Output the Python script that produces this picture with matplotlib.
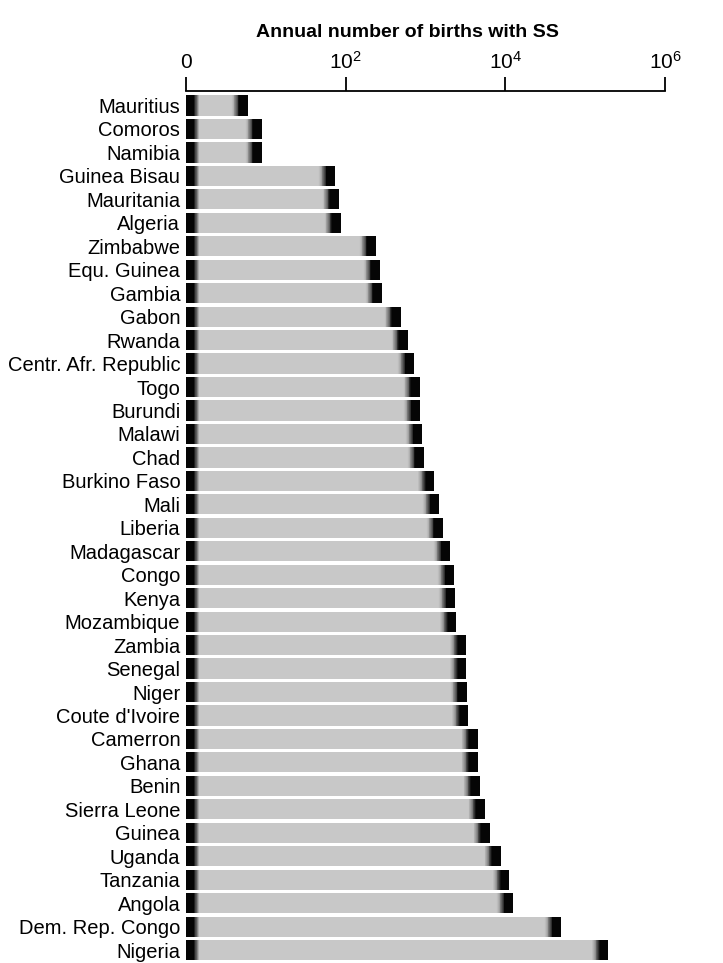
import numpy as np
import matplotlib
matplotlib.use("Agg")
import matplotlib.pyplot as plt
from matplotlib.colors import to_rgb

plt.rcParams['font.family'] = ['Liberation Sans', 'DejaVu Sans']
plt.rcParams['mathtext.fontset'] = 'custom'
plt.rcParams['mathtext.rm'] = 'Liberation Sans'
plt.rcParams['mathtext.it'] = 'Liberation Sans'

# countries, top to bottom
countries = [
    "Mauritius", "Comoros", "Namibia", "Guinea Bisau", "Mauritania", "Algeria",
    "Zimbabwe", "Equ. Guinea", "Gambia", "Gabon", "Rwanda", "Centr. Afr. Republic",
    "Togo", "Burundi", "Malawi", "Chad", "Burkino Faso", "Mali", "Liberia",
    "Madagascar", "Congo", "Kenya", "Mozambique", "Zambia", "Senegal", "Niger",
    "Coute d'Ivoire", "Camerron", "Ghana", "Benin", "Sierra Leone", "Guinea",
    "Uganda", "Tanzania", "Angola", "Dem. Rep. Congo", "Nigeria",
]
# annual number of births with SS
births = [
    6, 9, 9, 74, 82, 87,
    240, 270, 285, 490, 600, 720,
    850, 860, 910, 960, 1290, 1480, 1660,
    2040, 2290, 2350, 2440, 3250, 3250, 3300,
    3450, 4480, 4480, 4760, 5500, 6330,
    8700, 11200, 12500, 50000, 195000,
]
tick_vals = [1, 1e2, 1e4, 1e6]
tick_labels = ["0", "$\\mathrm{10^2}$", "$\\mathrm{10^4}$", "$\\mathrm{10^6}$"]

fig = plt.figure(figsize=(7.23, 9.63), dpi=100)
ax = fig.add_axes([0.257, 0.002, 0.663, 0.904])
ax.set_xscale('log')

light = np.array(to_rgb('#c8c8c8'))
dark = np.array(to_rgb('#050505'))
h = 0.86
ypos = np.arange(len(countries))


def shade(t):
    return tuple(light * (1 - t) + dark * t)


n = 10
for y, v in zip(ypos, births):
    lv = np.log10(v)
    # body
    ax.barh(y, v - 1, left=1, height=h, color=light, linewidth=0)
    # left dark edge
    ax.barh(y, 10 ** 0.1 - 1, left=1, height=h, color=dark, linewidth=0)
    for k in range(n):
        a = 0.1 + 0.07 * k / n
        b = 0.1 + 0.07 * (k + 1) / n
        ax.barh(y, 10 ** b - 10 ** a, left=10 ** a, height=h,
                color=shade(1 - (k + 0.5) / n), linewidth=0)
    # right dark end with soft gradient
    wsolid = min(0.11, lv * 0.3)
    wgrad = min(0.1, lv * 0.25)
    ax.barh(y, v - 10 ** (lv - wsolid), left=10 ** (lv - wsolid), height=h,
            color=dark, linewidth=0)
    for k in range(n):
        a = lv - wsolid - wgrad * (1 - k / n)
        b = lv - wsolid - wgrad * (1 - (k + 1) / n)
        ax.barh(y, 10 ** b - 10 ** a, left=10 ** a, height=h,
                color=shade(((k + 0.5) / n) ** 1.5), linewidth=0)

ax.set_xlim(1, 1e6)
ax.set_ylim(36.47, -0.64)
ax.set_yticks(ypos)
ax.set_yticklabels(countries, fontsize=14.5)
ax.tick_params(axis='y', length=0, pad=4)

ax.xaxis.tick_top()
ax.xaxis.set_label_position('top')
ax.set_xticks(tick_vals)
ax.set_xticklabels(tick_labels, fontsize=15)
ax.xaxis.set_minor_locator(matplotlib.ticker.NullLocator())
ax.tick_params(axis='x', direction='out', length=10, width=1.3, pad=3)
ax.set_xlabel("Annual number of births with SS", fontsize=14, fontweight='bold')
ax.xaxis.set_label_coords(0.462, 1.062)

for s in ['left', 'right', 'bottom']:
    ax.spines[s].set_visible(False)
ax.spines['top'].set_linewidth(1.3)

fig.savefig("out.png", dpi=100)
